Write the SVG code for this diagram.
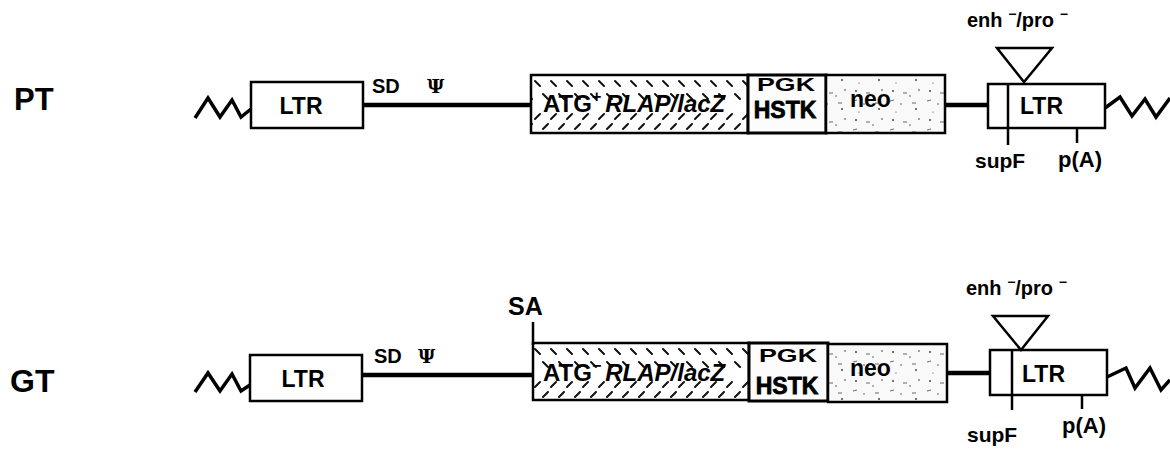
<svg xmlns="http://www.w3.org/2000/svg" width="1170" height="450" viewBox="0 0 1170 450">
<defs>
<pattern id="hatchPT" patternUnits="userSpaceOnUse" x="531" y="75" width="16" height="58">
<g stroke="#111" stroke-width="2" stroke-linecap="round">
<line x1="4" y1="6" x2="9" y2="11"/>
<line x1="12" y1="19" x2="17" y2="24"/>
<line x1="-4" y1="19" x2="1" y2="24"/>
<line x1="4" y1="44" x2="9" y2="39"/>
<line x1="12" y1="54" x2="17" y2="49"/>
<line x1="-4" y1="54" x2="1" y2="49"/>
</g>
</pattern>
<pattern id="hatchGT" href="#hatchPT" y="343"/>
<pattern id="speck" patternUnits="userSpaceOnUse" width="37" height="29">
<rect width="37" height="29" fill="#f9f9f9"/>
<g fill="#333">
<circle cx="5" cy="4" r="0.9"/>
<circle cx="22" cy="9" r="0.7"/>
<circle cx="31" cy="3" r="0.8"/>
<circle cx="13" cy="17" r="0.7"/>
<circle cx="28" cy="22" r="0.9"/>
<circle cx="8" cy="25" r="0.6"/>
</g>
<g stroke="#444" stroke-width="0.8">
<line x1="15" y1="6" x2="19" y2="6"/>
<line x1="2" y1="14" x2="6" y2="13"/>
<line x1="24" y1="16" x2="28" y2="16"/>
</g>
</pattern>
</defs>
<style>
.lbl{font-family:"Liberation Sans",Arial,sans-serif;font-weight:bold;fill:#000}
.box{fill:#fff;stroke:#000;stroke-width:2.5}
.bb{stroke:#000;stroke-width:4.5;fill:none}
.zig{stroke:#000;stroke-width:3.5;fill:none;stroke-linejoin:miter}
.tick{stroke:#000;stroke-width:2.5}
</style>
<rect width="1170" height="450" fill="#fff"/>

<g id="connectors">
<line class="bb" x1="363" y1="105" x2="532" y2="105"/>
<line class="bb" x1="945" y1="105" x2="989" y2="105"/>
<line class="bb" x1="362" y1="375" x2="534" y2="375"/>
<line class="bb" x1="947" y1="373" x2="991" y2="373"/>
<polyline class="zig" points="195,118 208,98 220,117 232,100 241,117 251,109"/>
<polyline class="zig" points="1105,108 1120,97 1132,116 1145,99 1156,117 1170,98"/>
<polyline class="zig" points="195,392 208,373 220,391 232,374 241,391 250,385"/>
<polyline class="zig" points="1107,377 1126,368 1135,388 1150,368 1161,390 1170,380"/>
<line class="tick" x1="533" y1="322" x2="533" y2="345"/>
<line class="tick" x1="1008" y1="128" x2="1008" y2="145"/>
<line class="tick" x1="1077" y1="128" x2="1077" y2="143"/>
<line class="tick" x1="1012" y1="395" x2="1012" y2="410"/>
<line class="tick" x1="1082" y1="395" x2="1082" y2="409"/>
</g>

<g id="row-PT">
<text class="lbl" x="14" y="110" font-size="31">PT</text>
<g id="pt-ltr-left">
<rect class="box" x="251" y="82" width="112" height="46"/>
<text class="lbl" x="301" y="114" font-size="23" text-anchor="middle">LTR</text>
</g>
<g id="pt-sd">
<text class="lbl" x="372" y="93" font-size="20">SD</text>
<text x="427" y="93" font-size="19" font-family="DejaVu Serif,serif" font-weight="bold">Ψ</text>
</g>
<g id="pt-rlap">
<rect x="531" y="75" width="217" height="58" fill="url(#hatchPT)" stroke="#000" stroke-width="2.5"/>
<text class="lbl" x="543" y="112" font-size="24">ATG<tspan font-size="16" dy="-10">+</tspan><tspan dy="10" dx="4" font-style="italic">RLAP/lacZ</tspan></text>
</g>
<g id="pt-pgk">
<rect x="748" y="75" width="78" height="58" fill="#fcfcfc" stroke="#000" stroke-width="3"/>
<text class="lbl" x="786" y="91" font-size="19" text-anchor="middle" textLength="58" lengthAdjust="spacingAndGlyphs">PGK</text>
<text class="lbl" x="785" y="118" font-size="23" text-anchor="middle" stroke="#000" stroke-width="0.8">HSTK</text>
</g>
<g id="pt-neo">
<rect x="826" y="75" width="119" height="58" fill="url(#speck)" stroke="#000" stroke-width="2.5"/>
<text class="lbl" x="850" y="107" font-size="23">neo</text>
</g>
<g id="pt-ltr-right">
<rect class="box" x="988" y="84" width="117" height="44"/>
<line x1="1008" y1="84" x2="1008" y2="128" stroke="#000" stroke-width="2.5"/>
<text class="lbl" x="1020" y="114" font-size="23">LTR</text>
</g>
<g id="pt-enh">
<polygon points="997,48 1052,48 1024,82" fill="#fff" stroke="#000" stroke-width="2.5"/>
<text class="lbl" x="967" y="27" font-size="20">enh <tspan dy="-8" font-size="14">−</tspan><tspan dy="8">/pro </tspan><tspan dy="-8" font-size="14">−</tspan></text>
</g>
<text class="lbl" x="975" y="168" font-size="21">supF</text>
<text class="lbl" x="1058" y="167" font-size="22">p(A)</text>
</g>

<g id="row-GT">
<text class="lbl" x="10" y="392" font-size="32">GT</text>
<g id="gt-ltr-left">
<rect class="box" x="250" y="355" width="112" height="46"/>
<text class="lbl" x="303" y="387" font-size="23" text-anchor="middle">LTR</text>
</g>
<g id="gt-sd">
<text class="lbl" x="374" y="363" font-size="20">SD</text>
<text x="418" y="363" font-size="19" font-family="DejaVu Serif,serif" font-weight="bold">Ψ</text>
</g>
<text class="lbl" x="508" y="315" font-size="25">SA</text>
<g id="gt-rlap">
<rect x="533" y="343" width="216" height="57" fill="url(#hatchGT)" stroke="#000" stroke-width="2.5"/>
<text class="lbl" x="543" y="381" font-size="24">ATG<tspan font-size="16" dy="-10">−</tspan><tspan dy="10" dx="4" font-style="italic">RLAP/lacZ</tspan></text>
</g>
<g id="gt-pgk">
<rect x="749" y="343" width="79" height="58" fill="#fcfcfc" stroke="#000" stroke-width="3"/>
<text class="lbl" x="788" y="362" font-size="19" text-anchor="middle" textLength="58" lengthAdjust="spacingAndGlyphs">PGK</text>
<text class="lbl" x="787" y="394" font-size="23" text-anchor="middle" stroke="#000" stroke-width="0.8">HSTK</text>
</g>
<g id="gt-neo">
<rect x="828" y="344" width="119" height="58" fill="url(#speck)" stroke="#000" stroke-width="2.5"/>
<text class="lbl" x="850" y="376" font-size="23">neo</text>
</g>
<g id="gt-ltr-right">
<rect class="box" x="990" y="350" width="117" height="45"/>
<line x1="1012" y1="350" x2="1012" y2="395" stroke="#000" stroke-width="2.5"/>
<text class="lbl" x="1022" y="382" font-size="23">LTR</text>
</g>
<g id="gt-enh">
<polygon points="993,316 1048,316 1021,350" fill="#fff" stroke="#000" stroke-width="2.5"/>
<text class="lbl" x="966" y="295" font-size="20">enh <tspan dy="-8" font-size="14">−</tspan><tspan dy="8">/pro </tspan><tspan dy="-8" font-size="14">−</tspan></text>
</g>
<text class="lbl" x="967" y="442" font-size="21">supF</text>
<text class="lbl" x="1062" y="433" font-size="22">p(A)</text>
</g>
</svg>
